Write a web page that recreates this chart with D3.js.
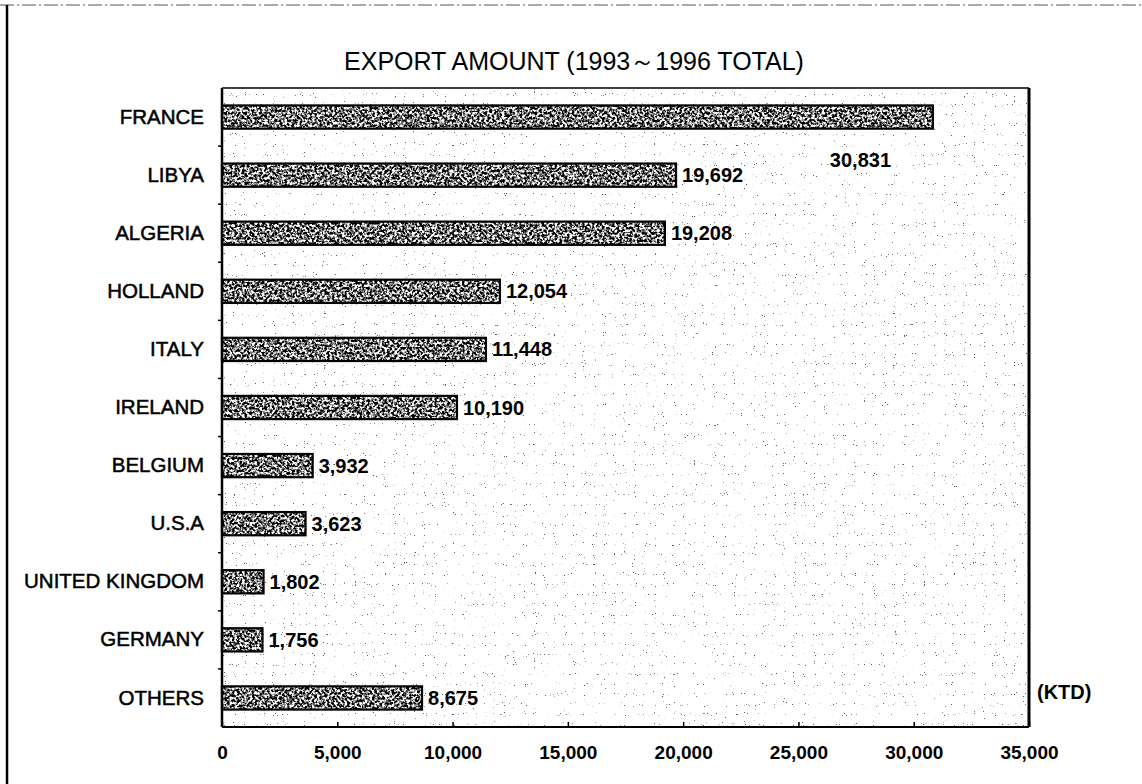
<!DOCTYPE html>
<html>
<head>
<meta charset="utf-8">
<script src="https://cdn.jsdelivr.net/npm/d3@7/dist/d3.min.js"></script>
<style>
  html, body { margin: 0; padding: 0; background: #ffffff; }
  svg { display: block; }
  text { font-family: "Liberation Sans", Arial, sans-serif; fill: #000; }
</style>
</head>
<body>
<svg id="chart" width="1142" height="784"></svg>
<script>
// ---- data ----
const categories = ["FRANCE", "LIBYA", "ALGERIA", "HOLLAND", "ITALY", "IRELAND",
                    "BELGIUM", "U.S.A", "UNITED KINGDOM", "GERMANY", "OTHERS"];
const values = [30831, 19692, 19208, 12054, 11448, 10190, 3932, 3623, 1802, 1756, 8675];
const tickValues = [0, 5000, 10000, 15000, 20000, 25000, 30000, 35000];
const titleText = "EXPORT AMOUNT (1993～1996 TOTAL)";
const unitText = "(KTD)";

// ---- layout ----
const W = 1142, H = 784;
const plot = { left: 222, right: 1029, top: 88, bottom: 727 };

const svg = d3.select("#chart");
const defs = svg.append("defs");

// speckled bar texture
const fBar = defs.append("filter").attr("id", "barTex")
  .attr("x", 0).attr("y", 0).attr("width", 1).attr("height", 1)
  .attr("color-interpolation-filters", "sRGB");
fBar.append("feTurbulence").attr("type", "fractalNoise").attr("baseFrequency", 0.4)
  .attr("numOctaves", 3).attr("seed", 7).attr("result", "noise");
fBar.append("feColorMatrix").attr("in", "noise").attr("type", "matrix")
  .attr("values", "4.2 0 0 0 -1.65  4.2 0 0 0 -1.65  4.2 0 0 0 -1.65  0 0 0 0 1")
  .attr("result", "g");
fBar.append("feComposite").attr("in", "g").attr("in2", "SourceGraphic").attr("operator", "in");

// sparse dotted background texture
const fBg = defs.append("filter").attr("id", "bgTex")
  .attr("x", 0).attr("y", 0).attr("width", 1).attr("height", 1)
  .attr("color-interpolation-filters", "sRGB");
fBg.append("feTurbulence").attr("type", "fractalNoise").attr("baseFrequency", 0.9)
  .attr("numOctaves", 1).attr("seed", 11).attr("result", "noise");
fBg.append("feColorMatrix").attr("in", "noise").attr("type", "matrix")
  .attr("values", "0 0 0 0 0.35  0 0 0 0 0.35  0 0 0 0 0.35  -22 0 0 0 6.4")
  .attr("result", "dots");
fBg.append("feComposite").attr("in", "dots").attr("in2", "SourceGraphic").attr("operator", "in");

// ---- outer frame ----
svg.append("line").attr("x1", 0).attr("x2", W).attr("y1", 5).attr("y2", 5)
  .attr("stroke", "#555").attr("stroke-width", 1.2).attr("stroke-dasharray", "14 3 2 3");
svg.append("line").attr("x1", 7).attr("x2", 7).attr("y1", 5).attr("y2", H)
  .attr("stroke", "#000").attr("stroke-width", 2.5);

// ---- title ----
svg.append("text").attr("x", 574).attr("y", 61)
  .attr("text-anchor", "middle").attr("dominant-baseline", "central")
  .style("font-size", "25px").text(titleText);

// ---- scales ----
const x = d3.scaleLinear().domain([0, 35000]).range([plot.left, plot.right]);
const y = d3.scaleBand().domain(categories).range([plot.top, plot.bottom])
  .paddingInner(0.6).paddingOuter(0.3);

// plot background texture
svg.append("rect").attr("x", plot.left).attr("y", plot.top)
  .attr("width", plot.right - plot.left).attr("height", plot.bottom - plot.top)
  .attr("fill", "#fff").attr("filter", "url(#bgTex)");

// ---- bars ----
const bars = svg.append("g");
const n = categories.length;
const barData = d3.range(n).map(i => ({ c: categories[i], v: values[i], i }));
bars.selectAll("rect.base").data(barData).join("rect").attr("class", "base")
  .attr("x", x(0)).attr("y", d => y(d.c))
  .attr("width", d => x(d.v) - x(0)).attr("height", y.bandwidth())
  .attr("fill", "#666");
bars.selectAll("rect.tex").data(barData).join("rect").attr("class", "tex")
  .attr("x", x(0)).attr("y", d => y(d.c))
  .attr("width", d => x(d.v) - x(0)).attr("height", y.bandwidth())
  .attr("fill", "#fff").attr("filter", "url(#barTex)");
bars.selectAll("rect.edge").data(barData).join("rect").attr("class", "edge")
  .attr("x", x(0)).attr("y", d => y(d.c))
  .attr("width", d => x(d.v) - x(0)).attr("height", y.bandwidth())
  .attr("fill", "none").attr("stroke", "#000").attr("stroke-width", 2.2);

// ---- value labels ----
const fmt = d3.format(",");
svg.append("g").selectAll("text").data(barData).join("text")
  .attr("x", d => d.i === 0 ? x(d.v) - 103 : x(d.v) + 6)
  .attr("y", d => d.i === 0 ? y(d.c) + y.bandwidth() + 31 : y(d.c) + y.bandwidth() / 2)
  .attr("dominant-baseline", "central")
  .style("font-size", "20px").style("font-weight", "bold")
  .text(d => fmt(d.v));

// ---- category labels (left axis) ----
const yAxis = d3.axisLeft(y).tickSize(0).tickPadding(18);
const gy = svg.append("g").attr("transform", `translate(${plot.left},0)`).call(yAxis);
gy.select(".domain").remove();
gy.selectAll("text").style("font-size", "20.5px")
  .style("font-family", "'Liberation Sans', Arial, sans-serif")
  .style("stroke", "#000").style("stroke-width", "0.5px")
  .attr("fill", "#000");

// small boundary ticks on the left axis
const bounds = d3.range(n + 1).map(i => y(categories[0]) - y.step() * y.paddingOuter() + i * y.step());
svg.append("g").selectAll("line").data(bounds.slice(1, n)).join("line")
  .attr("x1", plot.left - 4).attr("x2", plot.left).attr("y1", d => d).attr("y2", d => d)
  .attr("stroke", "#000").attr("stroke-width", 1.5);

// ---- bottom axis ----
const xAxis = d3.axisBottom(x).tickValues(tickValues).tickSize(-5).tickPadding(19)
  .tickFormat(d3.format(","));
const gx = svg.append("g").attr("transform", `translate(0,${plot.bottom})`).call(xAxis);
gx.select(".domain").remove();
gx.selectAll("line").attr("stroke", "#000").attr("stroke-width", 1.5);
gx.selectAll("text").style("font-size", "19px").style("font-weight", "bold")
  .style("font-family", "'Liberation Sans', Arial, sans-serif").attr("fill", "#000");

// ---- plot frame ----
const frame = svg.append("g").attr("fill", "none").attr("stroke", "#000");
frame.append("line").attr("x1", plot.left).attr("x2", plot.right).attr("y1", plot.top).attr("y2", plot.top)
  .attr("stroke-width", 1.5);
frame.append("line").attr("x1", plot.left).attr("x2", plot.right).attr("y1", plot.bottom).attr("y2", plot.bottom)
  .attr("stroke-width", 2);
frame.append("line").attr("x1", plot.left).attr("x2", plot.left).attr("y1", plot.top).attr("y2", plot.bottom)
  .attr("stroke-width", 2.5);
frame.append("line").attr("x1", plot.right).attr("x2", plot.right).attr("y1", plot.top).attr("y2", plot.bottom)
  .attr("stroke-width", 3);

// ---- unit label ----
svg.append("text").attr("x", plot.right + 8).attr("y", y("OTHERS") + y.bandwidth() / 2 - 6)
  .attr("dominant-baseline", "central")
  .style("font-size", "20px").style("font-weight", "bold").text(unitText);
</script>
</body>
</html>
